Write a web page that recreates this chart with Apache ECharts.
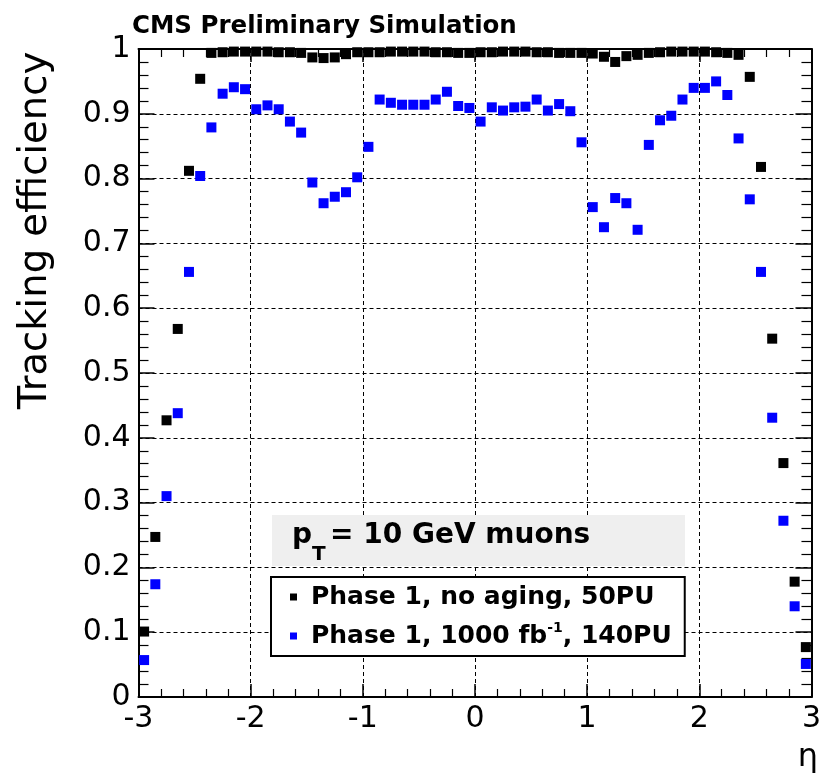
<!DOCTYPE html>
<html>
<head>
<meta charset="utf-8">
<script src="https://cdn.jsdelivr.net/npm/echarts@6/dist/echarts.min.js"></script>
<style>
html,body{margin:0;padding:0;background:#fff;}
#chart{width:824px;height:782px;}
</style>
</head>
<body>
<div id="chart"></div>
<script>
// bin centres in eta
const etaBins = [-2.95,-2.85,-2.75,-2.65,-2.55,-2.45,-2.35,-2.25,-2.15,-2.05,
  -1.95,-1.85,-1.75,-1.65,-1.55,-1.45,-1.35,-1.25,-1.15,-1.05,
  -0.95,-0.85,-0.75,-0.65,-0.55,-0.45,-0.35,-0.25,-0.15,-0.05,
  0.05,0.15,0.25,0.35,0.45,0.55,0.65,0.75,0.85,0.95,
  1.05,1.15,1.25,1.35,1.45,1.55,1.65,1.75,1.85,1.95,
  2.05,2.15,2.25,2.35,2.45,2.55,2.65,2.75,2.85,2.95];

// Phase 1, no aging, 50PU
const effNoAging = [0.101,0.247,0.427,0.568,0.812,0.954,0.994,0.995,0.996,0.996,
  0.996,0.996,0.995,0.995,0.994,0.987,0.986,0.987,0.992,0.995,
  0.995,0.995,0.996,0.996,0.996,0.996,0.995,0.995,0.994,0.994,
  0.995,0.995,0.996,0.996,0.996,0.995,0.995,0.994,0.994,0.994,
  0.993,0.988,0.980,0.989,0.991,0.994,0.995,0.996,0.996,0.996,
  0.996,0.995,0.994,0.991,0.957,0.818,0.553,0.361,0.178,0.077];

// Phase 1, 1000 fb-1, 140PU
const effAged = [0.057,0.174,0.310,0.438,0.656,0.804,0.879,0.931,0.941,0.938,
  0.907,0.913,0.907,0.888,0.871,0.794,0.762,0.772,0.779,0.802,
  0.849,0.922,0.917,0.914,0.914,0.914,0.922,0.934,0.912,0.909,
  0.888,0.910,0.905,0.910,0.911,0.922,0.905,0.915,0.904,0.856,
  0.756,0.725,0.770,0.762,0.721,0.852,0.890,0.897,0.922,0.940,
  0.940,0.950,0.929,0.862,0.768,0.656,0.431,0.272,0.140,0.051];

const xTicks = [-3,-2,-1,0,1,2,3];
const yTicks = [0,0.1,0.2,0.3,0.4,0.5,0.6,0.7,0.8,0.9,1];
const seriesNames = ['Phase 1, no aging, 50PU', 'Phase 1, 1000 fb-1, 140PU'];

const FONT = 'DejaVu Sans';
const chart = echarts.init(document.getElementById('chart'), null, {renderer:'canvas'});

function pairs(xs, ys){ return xs.map((x,i)=>[x, ys[i]]); }

const frameLine = {show:true, onZero:false, lineStyle:{color:'#000', width:2}};
const gridLine = {show:true, lineStyle:{color:'#000', width:1, type:[4,3]}};

function xAx(primary){
  return {
    type:'value', min:xTicks[0], max:xTicks[xTicks.length-1], interval:1,
    position: primary ? 'bottom' : 'top',
    axisLine: frameLine,
    axisTick:{show:true, inside:true, length:13, lineStyle:{color:'#000', width:1.5}},
    minorTick:{show:true, splitNumber:5, length:8, lineStyle:{color:'#000', width:1.2}},
    axisLabel:{show:primary, fontSize:30, color:'#000', fontFamily:FONT, margin:7,
      formatter: v => String(v)},
    splitLine: primary ? gridLine : {show:false}
  };
}
function yAx(primary){
  return {
    type:'value', min:yTicks[0], max:yTicks[yTicks.length-1], interval:0.1,
    position: primary ? 'left' : 'right',
    axisLine: frameLine,
    axisTick:{show:true, inside:true, length:16, lineStyle:{color:'#000', width:1.5}},
    minorTick:{show:true, splitNumber:5, length:10, lineStyle:{color:'#000', width:1.2}},
    axisLabel:{show:primary, fontSize:30, color:'#000', fontFamily:FONT, margin:8,
      formatter: v => String(Math.round(v*10)/10)},
    splitLine: primary ? gridLine : {show:false}
  };
}

const option = {
  animation:false,
  backgroundColor:'#fff',
  grid:{left:138.5, right:10.5, top:49, bottom:85, containLabel:false},
  xAxis:[xAx(true), xAx(false)],
  yAxis:[yAx(true), yAx(false)],
  legend:{
    left:271, top:577, orient:'vertical',
    backgroundColor:'#fff', borderColor:'#000', borderWidth:2, borderRadius:0,
    padding:[5,13,5,19], itemGap:9, itemWidth:7, itemHeight:7, icon:'rect',
    data:seriesNames,
    formatter: name => name === seriesNames[1]
      ? '{m|Phase 1, 1000 fb}{sup|-1}{m|, 140PU}' : '{m|' + name + '}',
    textStyle:{
      fontSize:25, fontWeight:'bold', color:'#000', fontFamily:FONT, lineHeight:30,
      padding:[0,0,0,9],
      rich:{
        m:{fontSize:25, fontWeight:'bold', color:'#000', fontFamily:FONT, lineHeight:30},
        sup:{fontSize:14, fontWeight:'bold', color:'#000', fontFamily:FONT, lineHeight:14, verticalAlign:'top'}
      }
    }
  },
  graphic:[
    {type:'text', left:132, top:14, z:10,
      style:{text:'CMS Preliminary Simulation', font:'bold 24.5px "DejaVu Sans"', fill:'#000'}},
    {type:'text', x:36, y:230.5, rotation:Math.PI/2, z:10,
      style:{text:'Tracking efficiency', font:'38.5px "DejaVu Sans"', fill:'#000', align:'center', verticalAlign:'middle'}},
    {type:'text', x:808, y:758, z:10,
      style:{text:'η', font:'32px "DejaVu Sans"', fill:'#000', align:'center', verticalAlign:'middle'}},
    {type:'rect', shape:{x:272, y:515, width:413, height:51}, z:5,
      style:{fill:'#efefef'}},
    {type:'text', x:292, y:535.3, z:6,
      style:{text:'p', font:'bold 28px "DejaVu Sans"', fill:'#000', align:'left', verticalAlign:'middle'}},
    {type:'text', x:312, y:555, z:6,
      style:{text:'T', font:'bold 20px "DejaVu Sans"', fill:'#000', align:'left', verticalAlign:'middle'}},
    {type:'text', x:330, y:535.3, z:6,
      style:{text:'= 10 GeV muons', font:'bold 28px "DejaVu Sans"', fill:'#000', align:'left', verticalAlign:'middle'}}
  ],
  series:[
    {name:seriesNames[0], type:'scatter', symbol:'rect', symbolSize:10, clip:false,
      itemStyle:{color:'#000', opacity:1}, data:pairs(etaBins, effNoAging), z:3},
    {name:seriesNames[1], type:'scatter', symbol:'rect', symbolSize:10, clip:false,
      itemStyle:{color:'#0000ff', opacity:1}, data:pairs(etaBins, effAged), z:4}
  ]
};
chart.setOption(option);
</script>
</body>
</html>
